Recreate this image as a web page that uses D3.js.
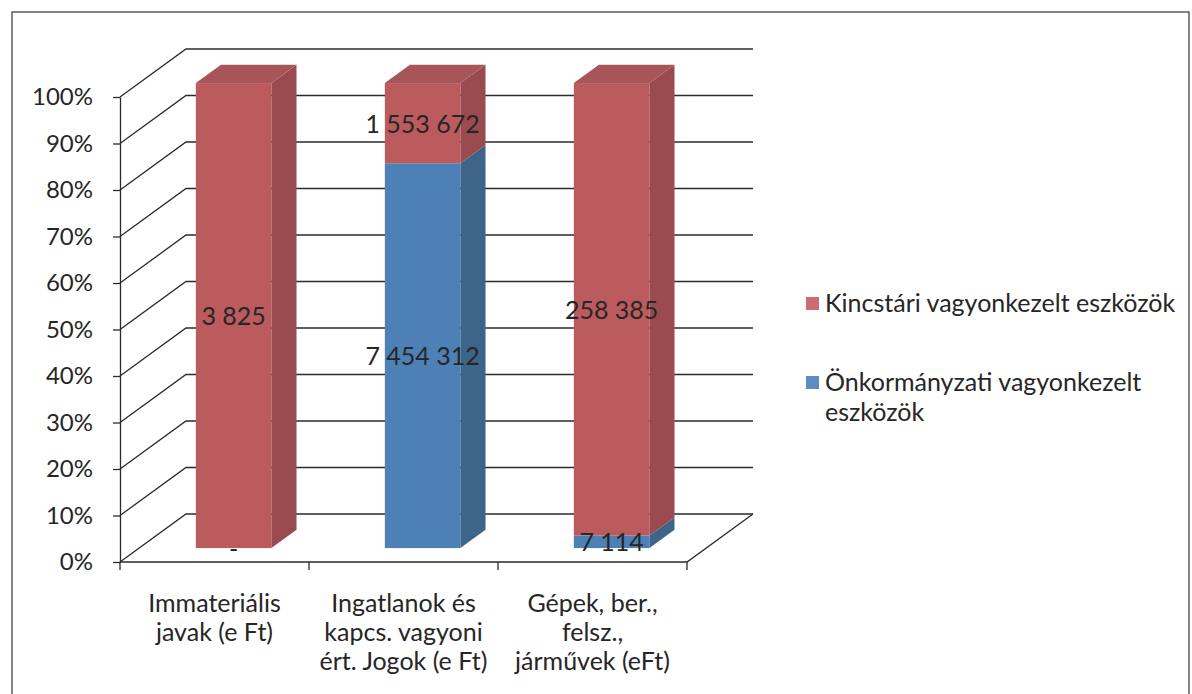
<!DOCTYPE html>
<html><head><meta charset="utf-8">
<script src="https://cdn.jsdelivr.net/npm/d3@7"></script>
<style>
html,body{margin:0;padding:0;background:#fff;}
svg text{font-family:Lato,"Open Sans",sans-serif;fill:#262626;}
</style></head>
<body><svg id="c" width="1192" height="694"></svg>
<script>
const categories = [
  ["Immateriális","javak (e Ft)"],
  ["Ingatlanok és","kapcs. vagyoni","ért. Jogok (e Ft)"],
  ["Gépek, ber.,","felsz.,","járművek (eFt)"]
];
const seriesNames = ["Önkormányzati vagyonkezelt eszközök","Kincstári vagyonkezelt eszközök"];
const onkormanyzati = [0, 7454312, 7114];
const kincstari = [3825, 1553672, 258385];
const yTicks = [0,0.1,0.2,0.3,0.4,0.5,0.6,0.7,0.8,0.9,1];

const svg = d3.select("#c");
// frame
svg.append("rect").attr("x",12).attr("y",12).attr("width",1177).attr("height",700)
  .attr("fill","none").attr("stroke","#444").attr("stroke-width",1.3);

const DX = 66, DY = -48;           // depth vector of the 3D floor
const T0 = 0.29, T1 = 0.67;        // bar depth placement
const x = d3.scaleBand().domain(d3.range(categories.length)).range([120,687])
  .paddingInner(0.6).paddingOuter(0.3);
const y = d3.scaleLinear().domain([0,1]).range([562,97]);

const g = svg.append("g");
const line = d3.line();
yTicks.forEach(v=>{
  g.append("path").attr("d", line([[x.range()[0], y(v)],[x.range()[0]+DX, y(v)+DY],[x.range()[1]+DX, y(v)+DY]]))
   .attr("fill","none").attr("stroke","#2b2b2b").attr("stroke-width",1.3);
});
g.append("path").attr("d", line([[x.range()[0], y(0)],[x.range()[1], y(0)],[x.range()[1]+DX, y(0)+DY]]))
  .attr("fill","none").attr("stroke","#2b2b2b").attr("stroke-width",1.3);

// y axis
const yAxis = d3.axisLeft(y).tickValues(yTicks).tickFormat(d=>Math.round(d*100)+"%")
  .tickSize(7).tickSizeOuter(0).tickPadding(20);
const ya = svg.append("g").attr("transform",`translate(${x.range()[0]},0)`).call(yAxis);
ya.selectAll("path,line").attr("stroke","#2b2b2b").attr("stroke-width",1.3);
ya.selectAll("text").style("font-family","Lato, 'Open Sans', sans-serif").style("font-size","24px").attr("fill","#262626");

// x ticks at band boundaries
d3.range(categories.length+1).forEach(i=>{
  const xb = x.range()[0] + i*x.step();
  svg.append("line").attr("x1",xb).attr("x2",xb).attr("y1",y(0)).attr("y2",y(0)+8)
    .attr("stroke","#2b2b2b").attr("stroke-width",1.3);
});
// category labels
categories.forEach((lines,i)=>{
  const t = svg.append("text").attr("text-anchor","middle").style("font-size","25px");
  lines.forEach((l,j)=>t.append("tspan").attr("x", x(i)+x.bandwidth()/2).attr("y", 612+j*29).text(l));
});

// bars
const colors = {
  k:{front:"#bb5b5e", side:"#9a4b4f", top:"#a8555a"},
  o:{front:"#4d80b4", side:"#3d6489", top:"#4574a3"}
};
const fmt = v => v===0 ? "-" : d3.format(",")(v).replace(/,/g," ");
const bars = svg.append("g");
const labels = svg.append("g");
categories.forEach((c,i)=>{
  const total = onkormanyzati[i]+kincstari[i];
  const segs = [
    {v0:0, v1:onkormanyzati[i]/total, c:colors.o, val:onkormanyzati[i]},
    {v0:onkormanyzati[i]/total, v1:1, c:colors.k, val:kincstari[i]}
  ];
  const x0 = x(i), x1 = x(i)+x.bandwidth();
  const ax = T0*DX, ay = T0*DY, bx = T1*DX, by = T1*DY;
  segs.forEach((s,si)=>{
    if (s.v1 > s.v0) {
      const yt = y(s.v1), yb = y(s.v0);
      bars.append("rect").attr("x",x0+ax).attr("y",yt+ay).attr("width",x1-x0).attr("height",yb-yt).attr("fill",s.c.front);
      bars.append("path").attr("d", line([[x1+ax,yt+ay],[x1+bx,yt+by],[x1+bx,yb+by],[x1+ax,yb+ay]])+"Z").attr("fill",s.c.side);
      if (si===segs.length-1)
        bars.append("path").attr("d", line([[x0+ax,yt+ay],[x0+bx,yt+by],[x1+bx,yt+by],[x1+ax,yt+ay]])+"Z").attr("fill",s.c.top);
    }
    const ym = y((s.v0+s.v1)/2)+ay;
    labels.append("text").attr("x",(x0+x1)/2+ax).attr("y",ym+9.5).attr("text-anchor","middle")
      .style("font-size","25px").text(fmt(s.val));
  });
});

// legend
const legend = [
  {name:["Kincstári vagyonkezelt eszközök"], color:"#cd6a72", y:312},
  {name:["Önkormányzati vagyonkezelt","eszközök"], color:"#5b8cc2", y:391}
];
legend.forEach(l=>{
  svg.append("rect").attr("x",806).attr("y",l.y-15).attr("width",13).attr("height",13).attr("fill",l.color);
  const t = svg.append("text").style("font-size","25px");
  l.name.forEach((n,j)=>t.append("tspan").attr("x",825).attr("y",l.y+j*30).text(n));
});
</script></body></html>
